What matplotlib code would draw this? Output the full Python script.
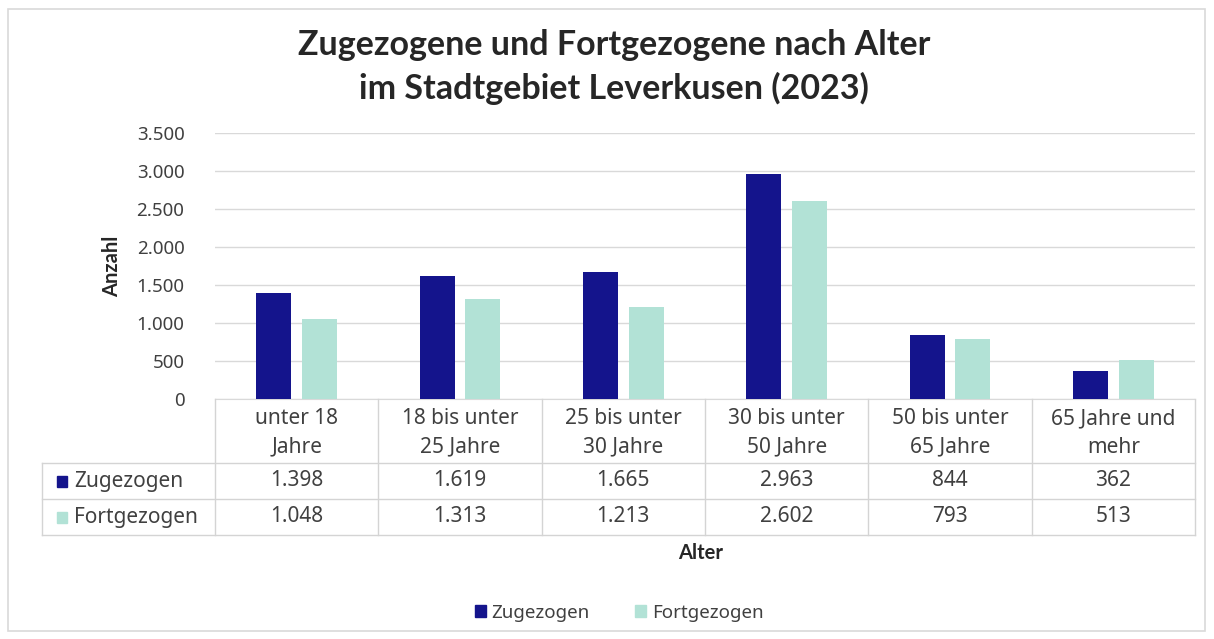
import matplotlib.pyplot as plt
from matplotlib.patches import Rectangle

# Altersgruppen
categories = [
    "unter 18\nJahre",
    "18 bis unter\n25 Jahre",
    "25 bis unter\n30 Jahre",
    "30 bis unter\n50 Jahre",
    "50 bis unter\n65 Jahre",
    "65 Jahre und\nmehr",
]

zugezogen = [1398, 1619, 1665, 2963, 844, 362]
fortgezogen = [1048, 1313, 1213, 2602, 793, 513]

series_names = ["Zugezogen", "Fortgezogen"]
colors = ["#14148c", "#b2e2d6"]

yticks = [0, 500, 1000, 1500, 2000, 2500, 3000, 3500]


def de_fmt(v):
    return f"{v:,}".replace(",", ".")


plt.rcParams["font.family"] = ["Noto Sans", "DejaVu Sans"]
bold_font = ["Lato", "DejaVu Sans"]

W, H = 1214, 639
fig = plt.figure(figsize=(W / 100, H / 100), dpi=100)
fig.patch.set_facecolor("white")

# heller Rahmen
fig.patches.append(Rectangle((8 / W, 8 / H), 1197 / W, 622 / H, transform=fig.transFigure,
                             fill=False, edgecolor="#d9d9d9", linewidth=1.2))

# Diagramm
x0, x1 = 215, 1195
y_top, y_bot = 133, 399
ax = fig.add_axes([x0 / W, 1 - y_bot / H, (x1 - x0) / W, (y_bot - y_top) / H])
n = len(categories)
xs = list(range(n))
bw = 0.215
ax.bar([x - 0.14 for x in xs], zugezogen, bw, color=colors[0], zorder=3)
ax.bar([x + 0.14 for x in xs], fortgezogen, bw, color=colors[1], zorder=3)
ax.set_xlim(-0.5, n - 0.5)
ax.set_ylim(0, 3500)
ax.set_yticks(yticks)
ax.set_yticklabels([de_fmt(v) for v in yticks], fontsize=13.5, color="#404040")
ax.tick_params(axis="y", length=0, pad=22)
ax.set_xticks([])
ax.grid(axis="y", color="#d9d9d9", linewidth=1, zorder=0)
for s in ["top", "right", "left"]:
    ax.spines[s].set_visible(False)
ax.spines["bottom"].set_color("#d9d9d9")
ax.set_ylabel("Anzahl", fontsize=14.5, fontweight="bold", color="#262626", labelpad=10,
              family=bold_font)

# Datentabelle
tx0 = 42
t_top, t_bot = 399, 535
tab = fig.add_axes([x0 / W, 1 - t_bot / H, (x1 - x0) / W, (t_bot - t_top) / H])
tab.set_xlim(-0.5, n - 0.5)
tab.set_ylim(t_bot, t_top)
tab.axis("off")
left = -0.5 - (x0 - tx0) / ((x1 - x0) / n)
lc = "#d4d4d4"
row_lines = [463, 499, 535]
for y in row_lines:
    tab.plot([left, n - 0.5], [y, y], color=lc, lw=1, clip_on=False)
for i in range(n + 1):
    tab.plot([i - 0.5, i - 0.5], [t_top, t_bot], color=lc, lw=1, clip_on=False)
tab.plot([left, left], [463, 535], color=lc, lw=1, clip_on=False)

fs = 15
for i, c in enumerate(categories):
    tab.text(i, 433, c, ha="center", va="center", fontsize=fs, color="#404040",
             linespacing=1.45)
for row, (name, vals, col) in enumerate(zip(series_names, [zugezogen, fortgezogen], colors)):
    yc = (row_lines[row] + row_lines[row + 1]) / 2
    tab.add_patch(Rectangle((left + 0.09, yc - 5), 0.06, 11, color=col, clip_on=False))
    tab.text(left + 0.195, yc, name, ha="left", va="center", fontsize=fs, color="#404040")
    for i, v in enumerate(vals):
        tab.text(i, yc, de_fmt(v), ha="center", va="center", fontsize=fs, color="#404040")

fig.text(701 / W, 1 - 553 / H, "Alter", ha="center", va="center", fontsize=14.5,
         fontweight="bold", color="#262626", family=bold_font)

fig.text(614 / W, 1 - 67 / H, "Zugezogene und Fortgezogene nach Alter\nim Stadtgebiet Leverkusen (2023)",
         ha="center", va="center", fontsize=24.5, fontweight="bold", color="#262626",
         linespacing=1.38, family=bold_font)

# Legende
handles = [Rectangle((0, 0), 1, 1, color=c) for c in colors]
fig.legend(handles, series_names, loc="center", bbox_to_anchor=(619 / W, 1 - 613 / H),
           ncol=2, frameon=False, handlelength=0.6, handleheight=0.6,
           handletextpad=0.3, columnspacing=2.4, labelcolor="#404040",
           prop={"size": 13.5})

fig.savefig("out.png", dpi=100)
